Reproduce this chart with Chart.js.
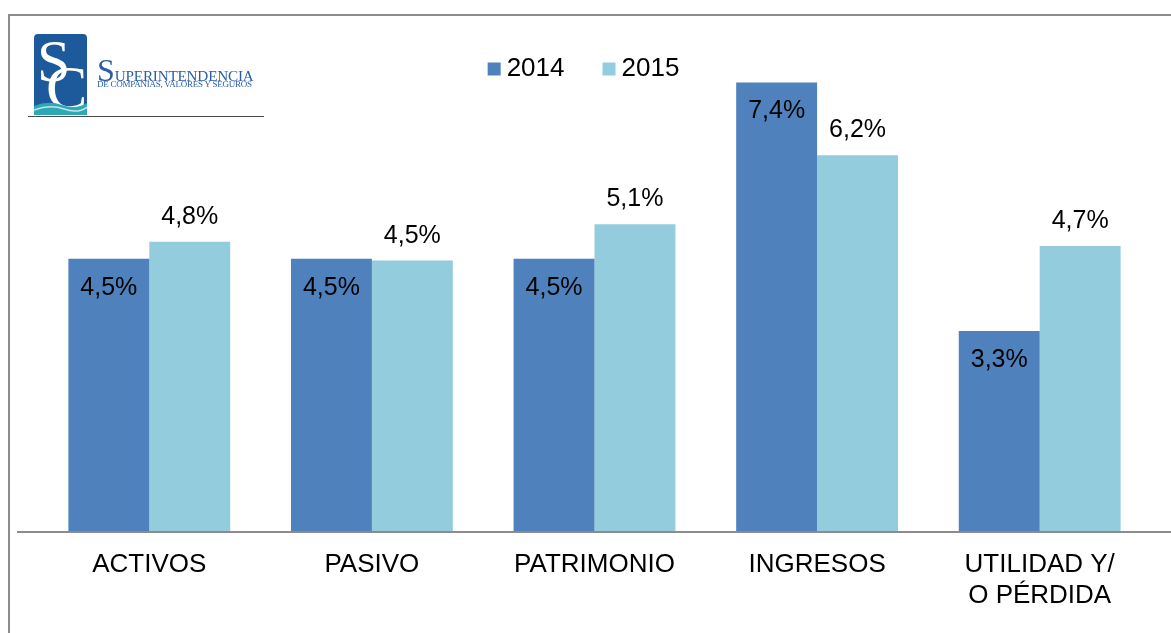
<!DOCTYPE html>
<html>
<head>
<meta charset="utf-8">
<script src="https://cdn.jsdelivr.net/npm/chart.js@4.4.1/dist/chart.umd.min.js"></script>
<style>
  html, body { margin: 0; padding: 0; background: #fff; }
  #wrap { position: relative; width: 1171px; height: 633px; overflow: hidden; }
  #frame { position: absolute; left: 8px; top: 14px; width: 1200px; height: 700px;
           border-top: 2px solid #8c8c8c; border-left: 2px solid #8c8c8c; }
  #chart { position: absolute; left: 0; top: 0; }
  #logo { position: absolute; left: 0; top: 0; width: 300px; height: 130px; }
  .badge { position: absolute; left: 34px; top: 34px; width: 53px; height: 81px;
           background: #1d5a9b; border-radius: 4px 4px 0 0; overflow: hidden; }
  .badge .s, .badge .c { position: absolute; color: #fff; font-family: "Liberation Serif", "DejaVu Serif", serif; }
  .badge .s { left: 3px; top: -7px; font-size: 60px; }
  .badge .c { left: 12px; top: 18px; font-size: 62px; }
  .name { position: absolute; left: 97px; top: 52px; color: #2a5ea6;
          font-family: "Liberation Serif", "DejaVu Serif", serif; white-space: nowrap; }
  .name .big { font-size: 32px; }
  .name .rest { font-size: 15.2px; letter-spacing: -0.2px; }
  .sub { position: absolute; left: 97px; top: 79px; color: #2a5ea6; font-size: 9px; letter-spacing: -0.25px;
         font-family: "Liberation Serif", "DejaVu Serif", serif; white-space: nowrap; }
  .rule { position: absolute; left: 28px; top: 116px; width: 236px; height: 1px; background: #4a4a4a; }
</style>
</head>
<body>
<div id="wrap">
  <div id="frame"></div>
  <canvas id="chart" width="1171" height="633"></canvas>
  <div id="logo">
    <div class="badge">
      <span class="s">S</span><span class="c">C</span>
      <svg width="53" height="81" style="position:absolute;left:0;top:0">
        <path d="M0 72 Q14 66 28 71 T53 69 L53 81 L0 81 Z" fill="#2fa8b5"/>
        <path d="M0 76 Q16 70 30 75 T53 73" stroke="#bfe6ea" stroke-width="1.5" fill="none"/>
      </svg>
    </div>
    <div class="name"><span class="big">S</span><span class="rest">UPERINTENDENCIA</span></div>
    <div class="sub">DE COMPAÑÍAS, VALORES Y SEGUROS</div>
    <div class="rule"></div>
  </div>
</div>
<script>
const categories = ["ACTIVOS", "PASIVO", "PATRIMONIO", "INGRESOS", ["UTILIDAD Y/", "O PÉRDIDA"]];
const seriesNames = ["2014", "2015"];
const values2014 = [4.49, 4.49, 4.49, 7.40, 3.30];
const values2015 = [4.77, 4.46, 5.06, 6.20, 4.70];
const seriesColors = ["#4f81bd", "#93cddd"];
const labelInside = [true, false];

const FONT = '"Liberation Sans", Arial, sans-serif';

// baseline of the category axis, wider than the plot area like the original
const axisLine = {
  id: "axisLine",
  afterDatasetsDraw(chart) {
    const y = chart.scales.y.getPixelForValue(0);
    const ctx = chart.ctx;
    ctx.save();
    ctx.strokeStyle = "#8c8c8c";
    ctx.lineWidth = 2;
    ctx.beginPath();
    ctx.moveTo(chart.chartArea.left - 21, y + 1);
    ctx.lineTo(chart.width, y + 1);
    ctx.stroke();
    ctx.restore();
  }
};

// value labels: 2014 inside the end of the bar, 2015 above it
const valueLabels = {
  id: "valueLabels",
  afterDatasetsDraw(chart) {
    const ctx = chart.ctx;
    ctx.save();
    ctx.font = "25px " + FONT;
    ctx.fillStyle = "#000";
    ctx.textAlign = "center";
    ctx.textBaseline = "middle";
    chart.data.datasets.forEach((ds, i) => {
      chart.getDatasetMeta(i).data.forEach((bar, j) => {
        const txt = ds.data[j].toFixed(1).replace(".", ",") + "%";
        const y = labelInside[i] ? bar.y + 29 : bar.y - 25;
        ctx.fillText(txt, bar.x, y);
      });
    });
    ctx.restore();
  }
};

// legend drawn over the plot area, like Excel does
const topLegend = {
  id: "topLegend",
  afterDraw(chart) {
    const ctx = chart.ctx;
    ctx.save();
    ctx.font = "26px " + FONT;
    ctx.textBaseline = "middle";
    const box = 13, gap = 6, spacing = 38;
    const items = chart.data.datasets.map(ds => ({ text: ds.label, color: ds.backgroundColor, w: ctx.measureText(ds.label).width }));
    let total = 0;
    items.forEach((it, k) => { total += box + gap + it.w + (k ? spacing : 0); });
    let x = 583.5 - total / 2;
    const cy = 69;
    items.forEach((it, k) => {
      if (k) x += spacing;
      ctx.fillStyle = it.color;
      ctx.fillRect(x, cy - box / 2, box, box);
      x += box + gap;
      ctx.fillStyle = "#000";
      ctx.fillText(it.text, x, cy);
      x += it.w;
    });
    ctx.restore();
  }
};

new Chart(document.getElementById("chart").getContext("2d"), {
  type: "bar",
  data: {
    labels: categories,
    datasets: [
      { label: seriesNames[0], data: values2014, backgroundColor: seriesColors[0] },
      { label: seriesNames[1], data: values2015, backgroundColor: seriesColors[1] }
    ]
  },
  options: {
    responsive: false,
    animation: false,
    devicePixelRatio: 1,
    layout: { padding: { left: 38, right: 20, top: 46, bottom: 0 } },
    datasets: { bar: { categoryPercentage: 0.727, barPercentage: 1.0 } },
    plugins: { legend: { display: false }, tooltip: { enabled: false } },
    scales: {
      x: {
        grid: { display: false, drawTicks: false },
        border: { display: false },
        ticks: { color: "#000", font: { family: FONT, size: 26 }, padding: 18, maxRotation: 0, autoSkip: false },
        afterFit: s => { s.height = 102; }
      },
      y: { display: false, min: 0, max: 8 }
    }
  },
  plugins: [axisLine, valueLabels, topLegend]
});
</script>
</body>
</html>
